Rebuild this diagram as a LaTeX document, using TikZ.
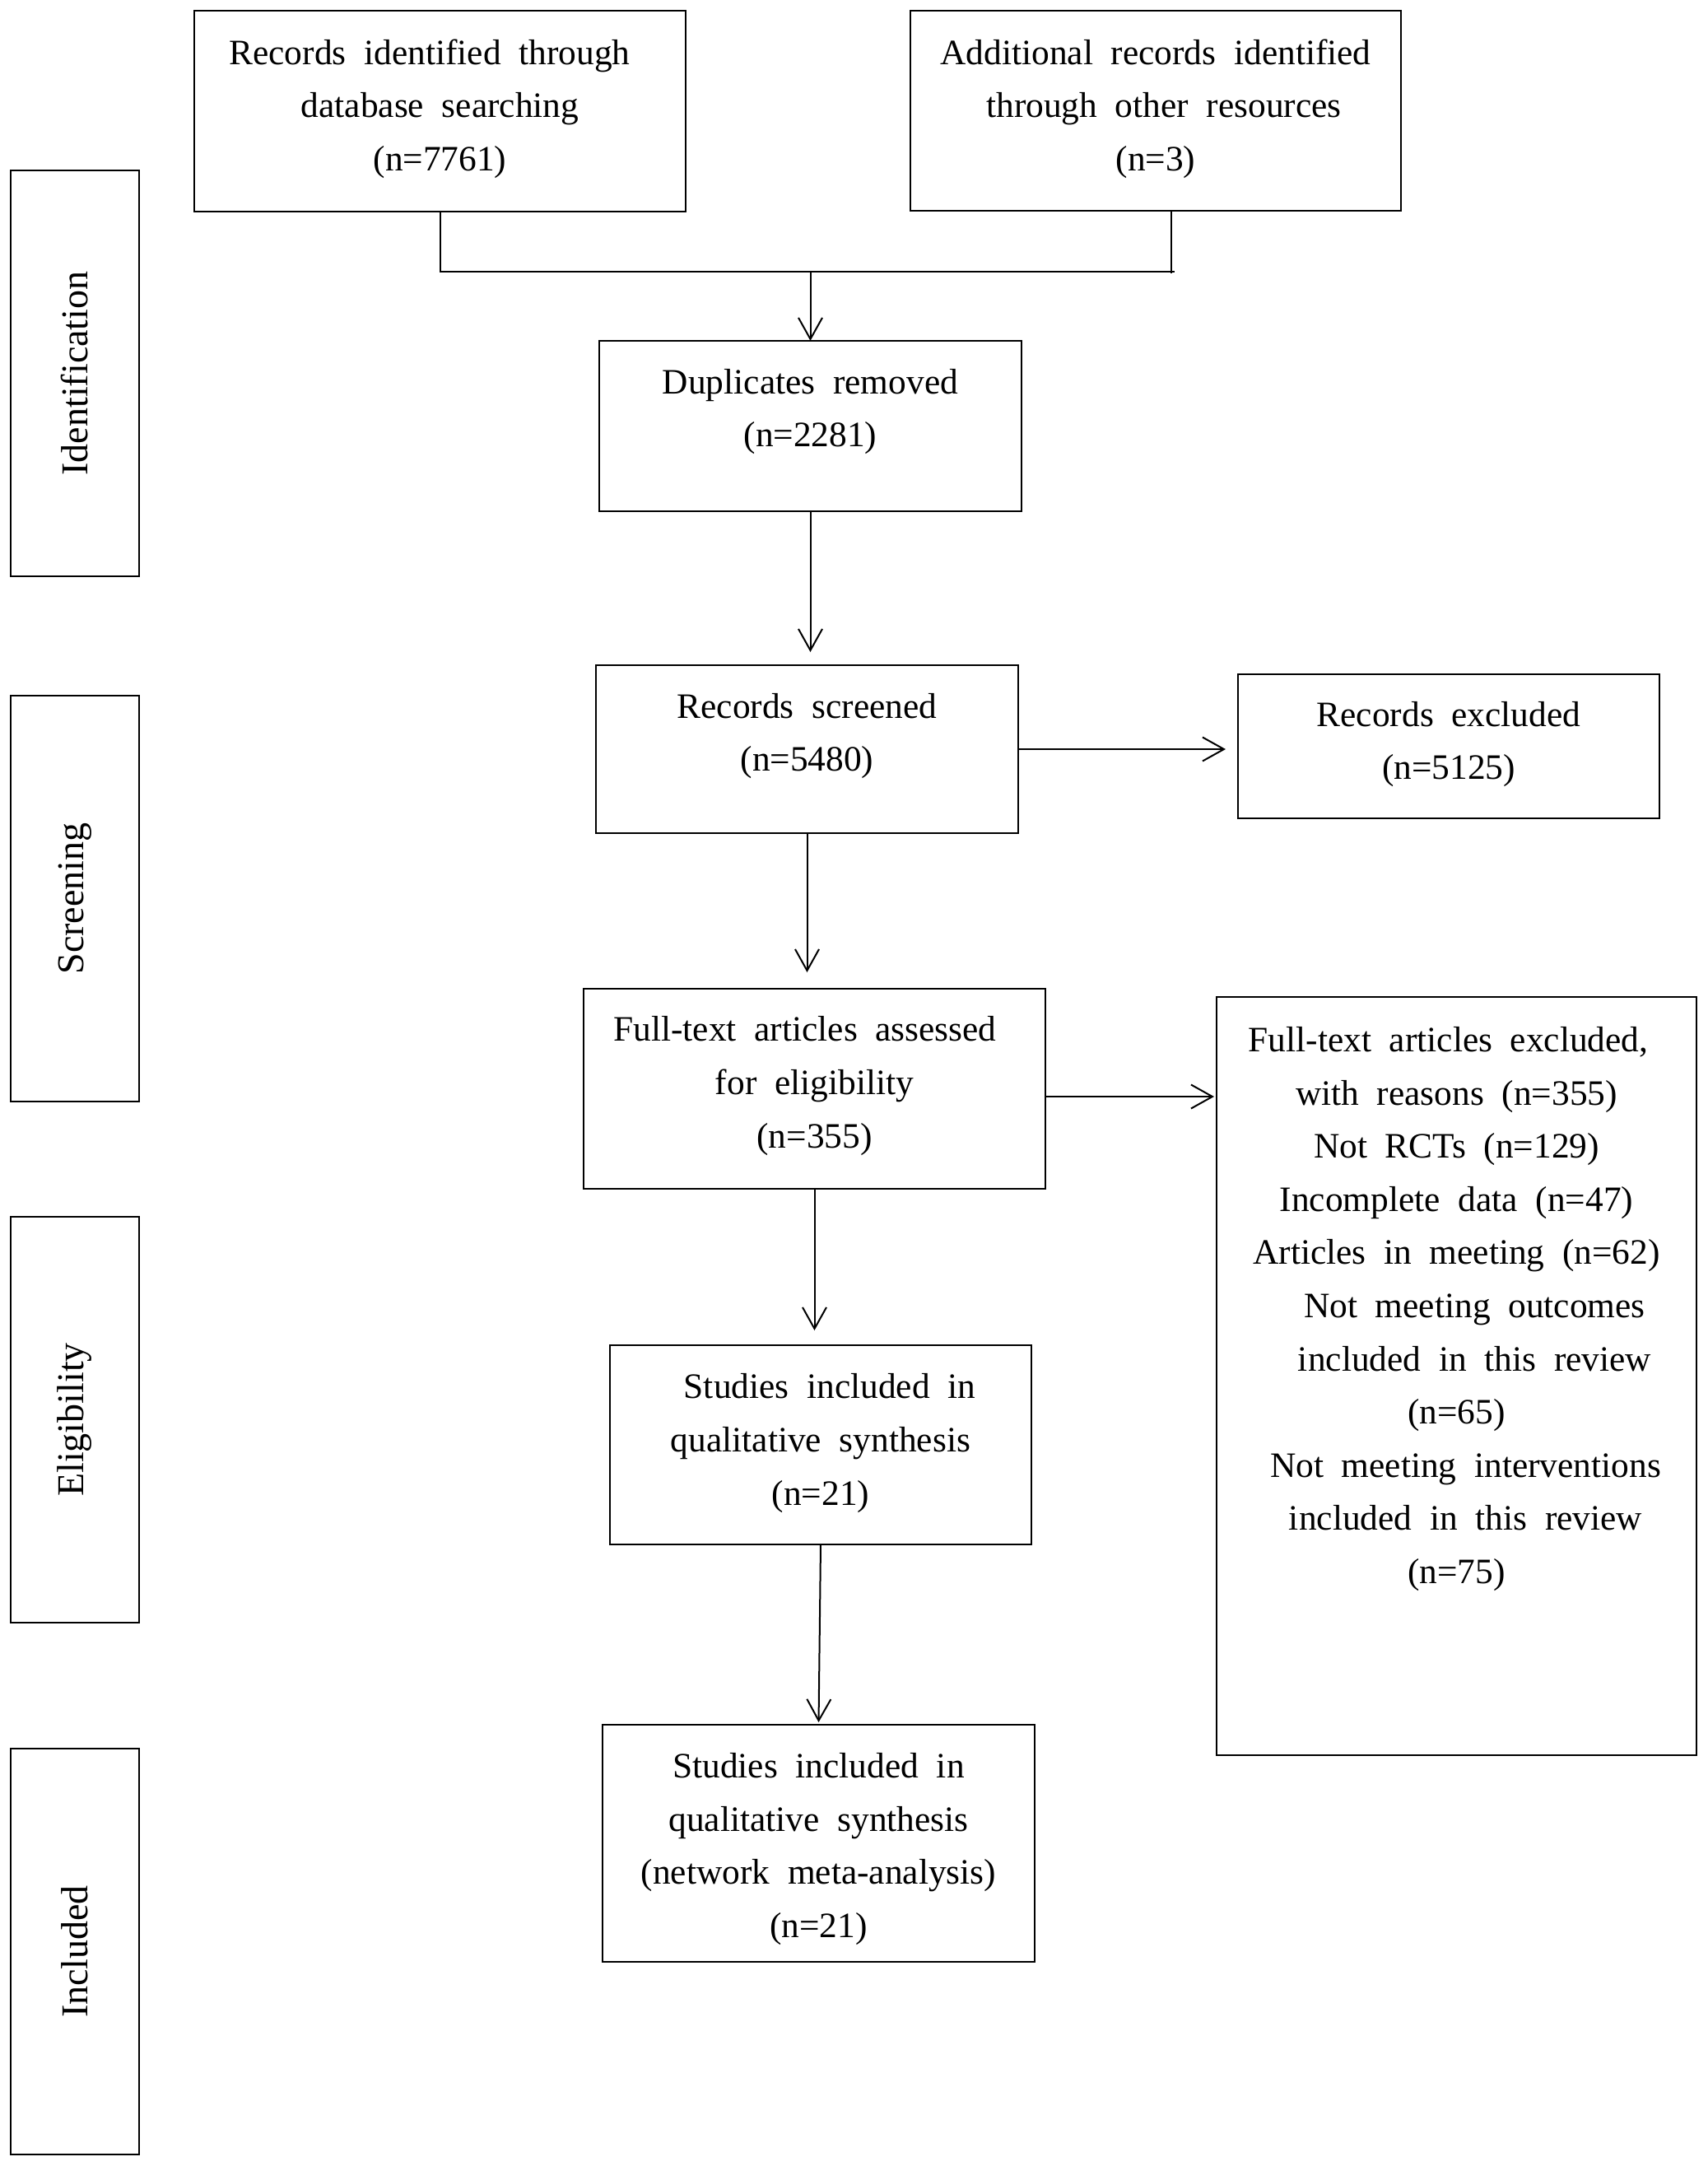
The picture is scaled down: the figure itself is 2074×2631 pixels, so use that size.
\documentclass[tikz,border=0pt]{standalone}
\usepackage{fontspec}
\setmainfont{Liberation Serif}
\usetikzlibrary{arrows.meta,calc}
\newcommand\boxfont{\fontsize{21.7pt}{32.3pt}\selectfont\spaceskip=0.5em\relax}
\newcommand\sidefont{\fontsize{23pt}{28pt}\selectfont}
\begin{document}
\begin{tikzpicture}[x=0.5pt,y=-0.5pt,
  frame/.style={draw,line width=1.2pt,inner sep=0pt,outer sep=0pt},
  txt/.style={align=center,font=\boxfont,inner sep=0pt},
  side/.style={frame,rotate=90,font=\sidefont,minimum width=246.5pt,minimum height=78pt},
  conn/.style={line width=1pt},
  arr/.style={conn,-{Straight Barb[length=13pt,width=14.5pt,line width=1pt]}}]
\useasboundingbox (0,0) rectangle (2074,2631);

% side stage boxes
\node[side] (ident) at (91,453.5) {Identification};
\node[side] (screen) at (91,1091.5) {Screening};
\node[side] (elig) at (91,1724.5) {Eligibility};
\node[side] (incl) at (91,2370.5) {Included};

% flow boxes
\node[frame,minimum width=298.5pt,minimum height=122pt] (A) at (534.5,135) {};
\node[txt] (tA) at (534.5,132) {Records identified through\hspace*{12.6pt}\\database searching\\(n=7761)};

\node[frame,minimum width=298pt,minimum height=121.5pt] (B) at (1404,134.5) {};
\node[txt] (tB) at (1404,132) {Additional records identified\\\hspace*{10pt}through other resources\\(n=3)};

\node[frame,minimum width=256.5pt,minimum height=103.5pt] (dup) at (984.5,517.5) {};
\node[txt] (tdup) at (984.5,500) {Duplicates removed\\(n=2281)};

\node[frame,minimum width=256.5pt,minimum height=102pt] (scr) at (980.5,910) {};
\node[txt] (tscr) at (980.5,894) {Records screened\\(n=5480)};

\node[frame,minimum width=256pt,minimum height=87.5pt] (exc) at (1760,906.5) {};
\node[txt] (texc) at (1760,904) {Records excluded\\(n=5125)};

\node[frame,minimum width=280.5pt,minimum height=121.5pt] (ft) at (989.5,1322.5) {};
\node[txt] (tft) at (989.5,1319) {Full-text articles assessed\hspace*{11.5pt}\\for eligibility\\(n=355)};

\node[frame,minimum width=291.5pt,minimum height=460.5pt] (ftx) at (1769.5,1671.5) {};
\node[txt] (tftx) at (1769.5,1590) {Full-text articles excluded,\hspace*{10pt}\\
with reasons (n=355)\\
Not RCTs (n=129)\\
Incomplete data (n=47)\\
Articles in meeting (n=62)\\
\hspace*{22pt}Not meeting outcomes\\
\hspace*{22pt}included in this review\\
(n=65)\\
\hspace*{11pt}Not meeting interventions\\
\hspace*{11pt}included in this review\\
(n=75)};

\node[frame,minimum width=256pt,minimum height=121pt] (s1) at (997,1755) {};
\node[txt] (ts1) at (997,1753) {\hspace*{11pt}Studies included in\\qualitative synthesis\\(n=21)};

\node[frame,minimum width=262.5pt,minimum height=144pt] (s2) at (994.5,2239) {};
\node[txt] (ts2) at (994.5,2246) {Studies included in\\qualitative synthesis\\(network meta-analysis)\\(n=21)};

% connectors
\coordinate (jl) at (534.5,330);
\coordinate (jr) at (1427,330);
\coordinate (jm) at (984.5,330);
\coordinate (bd) at (1423,332);
\draw[conn] (A.south) -- (jl) -- (jr);
\draw[conn] (B.south -| bd) -- (bd);
\draw[arr] (jm) -- (dup.north);
\draw[arr,shorten >=8pt] (dup.south) -- (dup.south |- scr.north);
\draw[arr,shorten >=10pt] (scr.south) -- (scr.south |- ft.north);
\draw[arr,shorten >=9pt] (ft.south) -- (ft.south |- s1.north);
\draw[arr,shorten >=1.5pt] (s1.south) -- (s2.north);
\draw[arr,shorten >=7.5pt] (scr.east) -- (scr.east -| exc.west);
\draw[arr,shorten >=1.5pt] ([yshift=-4.75pt]ft.east) -- ([yshift=-4.75pt]ft.east -| ftx.west);
\end{tikzpicture}
\end{document}
